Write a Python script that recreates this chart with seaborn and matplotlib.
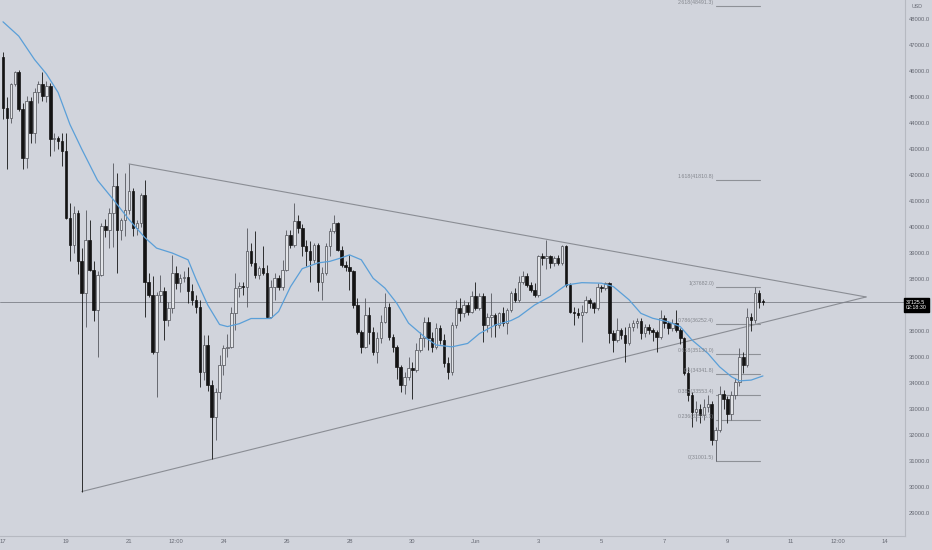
import numpy as np
import seaborn as sns
import matplotlib
matplotlib.use("Agg")
import matplotlib.pyplot as plt

# BTC/USD 3h candles, 17 May 00:00 -> 10 Jun 03:00
opens = [46530, 44600, 44210, 45500, 45950, 44530, 42670, 44850, 43630, 45180,
         45500, 45050, 45430, 43380, 43440, 43310, 42920, 40350, 39320, 40540,
         38680, 37450, 39510, 38360, 36810, 38160, 40030, 39900, 40540, 41570,
         39900, 40290, 40670, 41380, 39960, 40160, 41250, 37900, 37390, 35200,
         37390, 37520, 36420, 36880, 38230, 37840, 38030, 38070, 37520, 37200,
         36940, 34430, 35460, 33920, 32690, 33660, 34690, 35330, 35400, 36680,
         37650, 37740, 37710, 39060, 38600, 38160, 38420, 38230, 36550, 37710,
         38030, 37710, 38360, 39710, 39320, 40220, 39960, 39260, 39060, 38740,
         39320, 37900, 38230, 39260, 39840, 40160, 39130, 38550, 38480, 38290,
         37000, 35970, 35400, 36620, 35970, 35200, 35720, 36360, 36940, 35780,
         35400, 34620, 33920, 34240, 34560, 34490, 35270, 35720, 36360, 35720,
         35400, 36100, 35650, 34750, 34430, 36230, 36880, 36680, 37000, 36750,
         37330, 36880, 37330, 36230, 36550, 36620, 36230, 36680, 36300, 36810,
         37450, 37200, 37900, 38100, 37780, 37580, 37390, 38870, 38800, 38870,
         38610, 38800, 38610, 39260, 37780, 36750, 36680, 36620, 36750, 37200,
         37070, 36880, 37710, 37650, 37840, 35910, 35650, 36040, 35850, 35520,
         36170, 36300, 36400, 35910, 36170, 36040, 35970, 35780, 36490, 36300,
         36100, 36300, 36040, 35720, 34370, 33530, 32880, 33000, 32780, 33070,
         33200, 31790, 32180, 33590, 33400, 32820, 33530, 34040, 35010, 34690,
         36550, 36420, 37450, 37130]
highs = [46720, 45000, 45560, 46000, 46050, 44790, 45050, 45000, 45370, 45630,
         45950, 45630, 45560, 43630, 43500, 43630, 43630, 40930, 40800, 40670,
         39200, 40670, 40290, 38700, 38300, 40160, 40300, 40740, 42470, 42090,
         40350, 42090, 42430, 41500, 40290, 41320, 41830, 38230, 38100, 37500,
         38160, 37700, 37100, 38930, 38500, 38200, 38300, 38480, 37800, 37400,
         37200, 35850, 35850, 34100, 33800, 35070, 35460, 35900, 36940, 38230,
         37900, 37900, 39960, 39400, 39830, 38500, 39260, 38550, 37970, 38230,
         38160, 38740, 39900, 39900, 40930, 40480, 40100, 39500, 39450, 39400,
         39390, 38480, 39390, 39960, 40480, 40200, 39260, 38700, 38930, 38350,
         37260, 36040, 37260, 36940, 36170, 35970, 36620, 37450, 37070, 35900,
         35460, 34690, 34430, 35010, 34800, 35520, 35970, 36550, 36550, 35970,
         36300, 36230, 35900, 35000, 36360, 37200, 37260, 37200, 37100, 37520,
         37900, 37450, 37450, 36680, 37450, 36680, 36750, 36940, 36900, 37520,
         37650, 38100, 38290, 38230, 37900, 37840, 38930, 39000, 39510, 38930,
         38900, 38930, 39320, 39320, 37840, 36940, 36900, 37000, 37330, 37260,
         37130, 37840, 37780, 37900, 37900, 36040, 36490, 36100, 36170, 36300,
         36430, 36500, 36490, 36250, 36250, 36100, 36040, 36810, 36600, 36400,
         36450, 36810, 36100, 35780, 34620, 33650, 33300, 33200, 33400, 33520,
         33300, 32300, 33900, 33720, 33500, 33700, 34200, 35330, 35200, 36900,
         36700, 37682, 37580, 37250]
lows = [44150, 42220, 44020, 45430, 44470, 42220, 42280, 43250, 43250, 44790,
        44850, 44800, 42730, 42920, 43000, 42340, 40300, 38680, 39000, 38200,
        29820, 36170, 38300, 36400, 35010, 38100, 39600, 39190, 39250, 38230,
        39500, 39640, 40500, 39640, 39710, 40000, 36550, 37300, 35100, 33470,
        37100, 35650, 36200, 36700, 37600, 37500, 37900, 37070, 37000, 36700,
        33850, 34110, 33700, 31080, 31790, 33400, 34300, 35000, 35330, 36040,
        37300, 37400, 36940, 38500, 38030, 38000, 38150, 36490, 36490, 37200,
        37580, 37580, 38290, 39200, 39250, 39770, 38870, 38500, 37900, 38600,
        37520, 37200, 38160, 38870, 39770, 39060, 38480, 38300, 37580, 36900,
        35900, 35140, 35330, 35500, 35070, 34750, 35520, 36300, 35650, 35200,
        34170, 33660, 33590, 34100, 33400, 34430, 35200, 35400, 35270, 35200,
        35300, 35500, 34620, 34170, 34300, 36100, 36400, 36550, 36600, 36700,
        36800, 36800, 35590, 35970, 35780, 35780, 36100, 36200, 35900, 36750,
        37130, 37130, 37800, 37700, 37500, 37300, 37320, 38550, 38400, 38420,
        38500, 38550, 38550, 37700, 36680, 36230, 36500, 35590, 36680, 36880,
        36680, 36810, 37500, 37580, 35520, 35200, 35580, 35700, 34820, 35450,
        36000, 36100, 35700, 35780, 35900, 35600, 35200, 35700, 36100, 35900,
        36000, 35950, 35500, 34300, 33300, 32300, 32550, 32440, 32560, 32900,
        31600, 31001.5, 32100, 33000, 32440, 32560, 33400, 33900, 34400, 34600,
        36000, 36300, 36900, 37000]
closes = [44600, 44210, 45500, 45950, 44530, 42670, 44850, 43630, 45180, 45500,
          45050, 45430, 43380, 43440, 43310, 42920, 40350, 39320, 40540, 38680,
          37450, 39510, 38360, 36810, 38160, 40030, 39900, 40540, 41570, 39900,
          40290, 40670, 41380, 39960, 40160, 41250, 37900, 37390, 35200, 37390,
          37520, 36420, 36880, 38230, 37840, 38030, 38070, 37520, 37200, 36940,
          34430, 35460, 33920, 32690, 33660, 34690, 35330, 35400, 36680, 37650,
          37740, 37710, 39060, 38600, 38160, 38420, 38230, 36550, 37710, 38030,
          37710, 38360, 39710, 39320, 40220, 39960, 39260, 39060, 38740, 39320,
          37900, 38230, 39260, 39840, 40160, 39130, 38550, 38480, 38290, 37000,
          35970, 35400, 36620, 35970, 35200, 35720, 36360, 36940, 35780, 35400,
          34620, 33920, 34240, 34560, 34490, 35270, 35720, 36360, 35720, 35400,
          36100, 35650, 34750, 34430, 36230, 36880, 36680, 37000, 36750, 37330,
          36880, 37330, 36230, 36550, 36620, 36230, 36680, 36300, 36810, 37450,
          37200, 37900, 38100, 37780, 37580, 37390, 38870, 38800, 38870, 38610,
          38800, 38610, 39260, 37780, 36750, 36680, 36620, 36750, 37200, 37070,
          36880, 37710, 37650, 37840, 35910, 35650, 36040, 35850, 35520, 36170,
          36300, 36400, 35910, 36170, 36040, 35970, 35780, 36490, 36300, 36100,
          36300, 36040, 35720, 34370, 33530, 32880, 33000, 32780, 33070, 33200,
          31790, 32180, 33590, 33400, 32820, 33530, 34040, 35010, 34690, 36550,
          36420, 37450, 37130, 37125.5]

# blue moving average, sampled along the candles
ma_idx = [0, 4, 8, 11, 14, 17, 20, 24, 28, 32, 36, 39, 43, 47, 49, 52, 55, 57,
          60, 63, 68, 70, 73, 76, 80, 83, 86, 88, 91, 94, 97, 100, 103, 107, 110,
          114, 118, 121, 125, 129, 131, 135, 139, 143, 147, 152, 155, 159, 162,
          165, 169, 172, 175, 179, 182, 185, 187, 190, 193]
ma_val = [47900, 47350, 46450, 45900, 45180, 43950, 43000, 41800, 41060, 40290,
          39600, 39190, 39000, 38740, 38000, 37000, 36250, 36170, 36280, 36480,
          36480, 36750, 37700, 38400, 38620, 38680, 38820, 38930, 38740, 38030,
          37650, 37070, 36300, 35780, 35460, 35390, 35520, 35900, 36230, 36400,
          36550, 37000, 37330, 37770, 37860, 37840, 37710, 37200, 36680, 36490,
          36350, 36170, 35650, 35140, 34620, 34240, 34080, 34110, 34270]

# triangle trend lines (candle index, price)
upper_line = [(32, 42430), (219.2, 37310)]
lower_line = [(20, 29820), (219.2, 37310)]

# fib retracement drawn from the 8 Jun low
fib_labels = ["0", "0.236", "0.382", "0.5", "0.618", "0.786", "1", "1.618", "2.618"]
fib_prices = [31001.5, 32578.1, 33553.4, 34341.8, 35130.0, 36252.4, 37682.0, 41810.8, 48491.3]

tick_pos = [0, 16, 32, 44, 56, 72, 88, 104, 120, 136, 152, 168, 184, 200, 212, 224]
tick_labels = ["17", "19", "21", "12:00", "24", "26", "28", "30", "Jun",
               "3", "5", "7", "9", "11", "12:00", "14"]
# 37000 is hidden behind the last-price tag
price_ticks = [v for v in range(29000, 48001, 1000) if v != 37000]
last_price = 37125.5

bg = "#d1d4dc"
txt = "#666973"

sns.set_theme(style="white")
plt.rcParams['font.family'] = ['Liberation Sans', 'DejaVu Sans']

fig = plt.figure(figsize=(9.32, 5.5), dpi=100, facecolor=bg)
ax = fig.add_axes([0, 14 / 550, 905 / 932, 536 / 550])
ax.set_facecolor(bg)

x = np.arange(len(opens))
o = np.array(opens, dtype=float)
c = np.array(closes, dtype=float)
h = np.array(highs, dtype=float)
l = np.array(lows, dtype=float)
up = c >= o

# wicks
ax.vlines(x[up], l[up], h[up], color="#55575e", lw=0.6, zorder=2)
ax.vlines(x[~up], l[~up], h[~up], color="#141414", lw=0.6, zorder=2)
# bodies
body = np.maximum(np.abs(c - o), 20)
ax.bar(x[up], body[up], bottom=np.minimum(o, c)[up], width=0.66,
       color="#e2e4e8", edgecolor="#4d4f55", linewidth=0.5, zorder=3)
ax.bar(x[~up], body[~up], bottom=np.minimum(o, c)[~up], width=0.66,
       color="#141414", edgecolor="#141414", linewidth=0.5, zorder=3)

# moving average
sns.lineplot(x=ma_idx, y=ma_val, ax=ax, color="#5a9fd8", lw=0.9, zorder=4)

# triangle
for seg in (upper_line, lower_line):
    ax.plot([seg[0][0], seg[1][0]], [seg[0][1], seg[1][1]],
            color="#8a8d94", lw=0.8, zorder=1)

# fib levels
for lab, p in zip(fib_labels, fib_prices):
    ax.plot([181, 192.3], [p, p], color="#8e9197", lw=0.8, zorder=1)
    ax.text(180.6, p + 40, f"{lab}({p:.1f})", ha="right", va="bottom",
            fontsize=3.8, color="#84878e", zorder=5)

# last price line
ax.axhline(last_price, color="#7d8088", lw=0.6, zorder=1)

ax.set_xlim(-0.762, 229.08)
ax.set_ylim(28109, 48740)
ax.yaxis.tick_right()
ax.set_yticks(price_ticks)
ax.set_yticklabels([f"{v:.1f}" for v in price_ticks])
ax.set_xticks(tick_pos)
ax.set_xticklabels(tick_labels)
ax.tick_params(axis="y", length=0, pad=3, labelsize=4.2, labelcolor=txt)
ax.tick_params(axis="x", length=0, pad=2.5, labelsize=4.2, labelcolor=txt)
for side in ("top", "left"):
    ax.spines[side].set_visible(False)
for side in ("right", "bottom"):
    ax.spines[side].set_color("#b6b9c1")
    ax.spines[side].set_linewidth(0.8)

fig.text(912 / 932, 1 - 6 / 550, "USD", fontsize=3.8, color=txt,
         ha="left", va="center")
fig.text(906 / 932, 1 - 305 / 550, f"{last_price:.1f}\n02:18:30", fontsize=3.8,
         color="white", ha="left", va="center", linespacing=1.15,
         bbox=dict(facecolor="black", edgecolor="black", pad=1.3))

fig.savefig("out.png", dpi=100, facecolor=bg)
